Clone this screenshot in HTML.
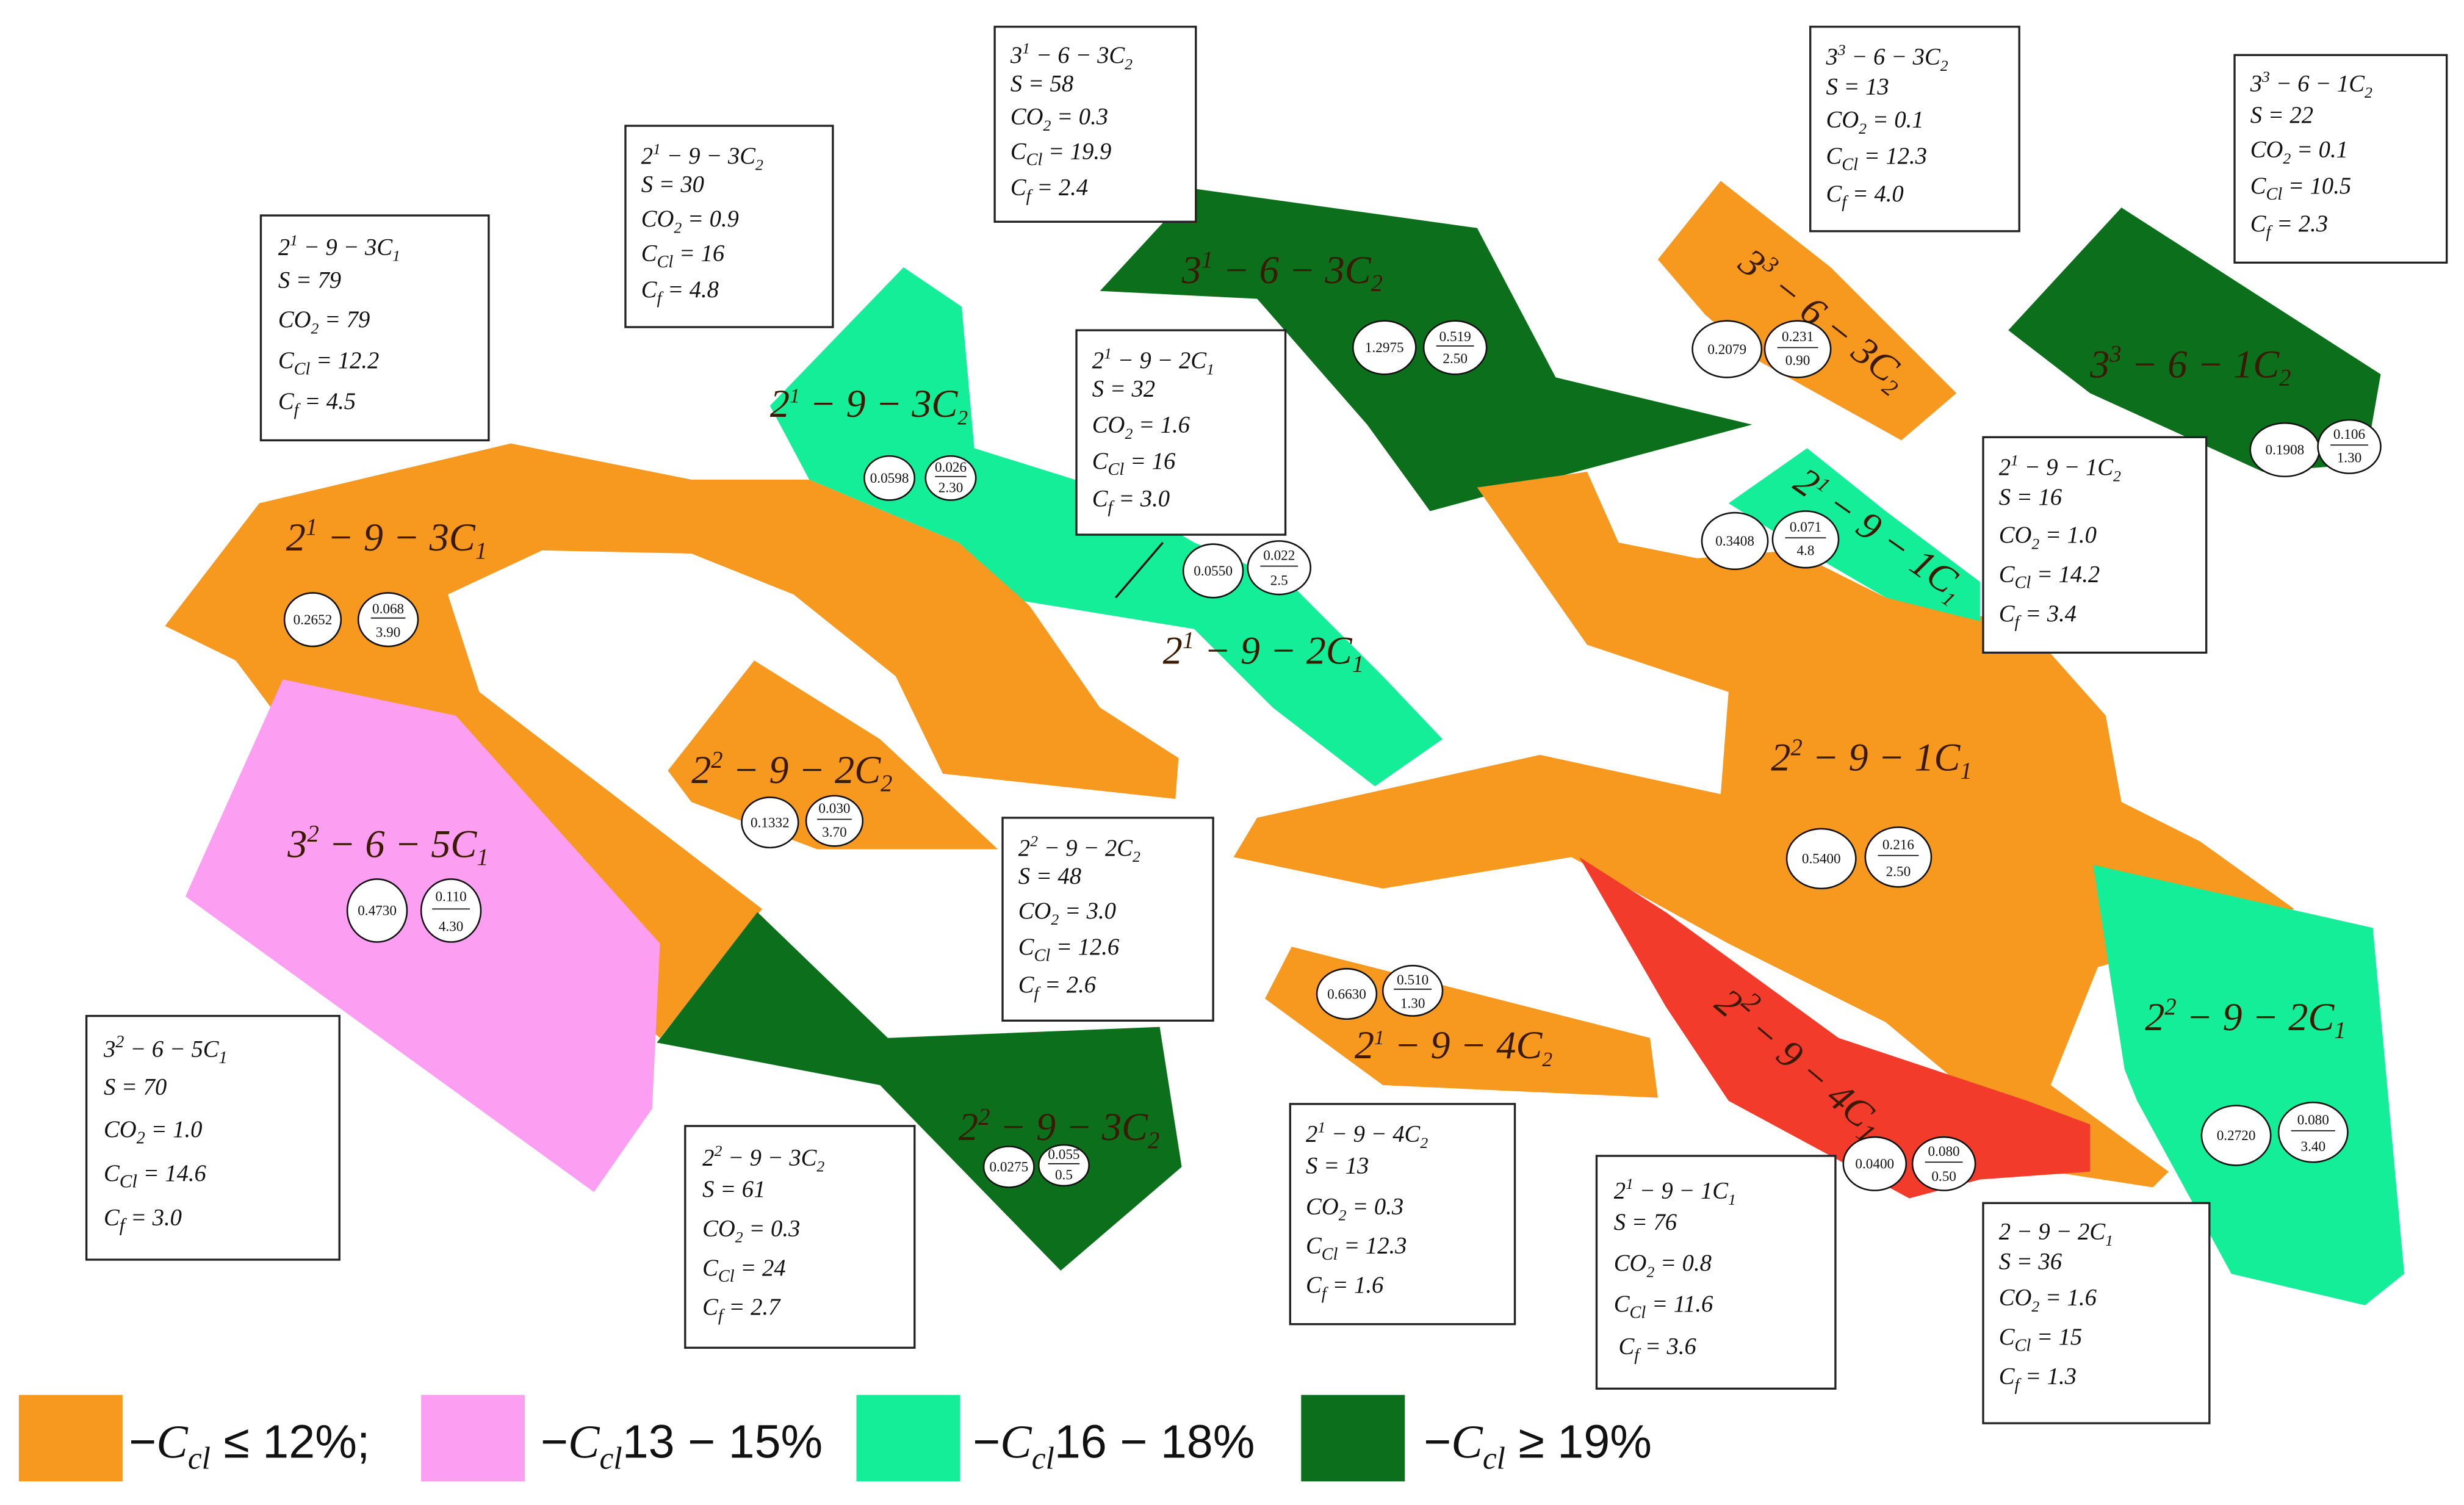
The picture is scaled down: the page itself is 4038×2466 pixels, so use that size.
<!DOCTYPE html>
<html><head><meta charset="utf-8"><style>
html,body{margin:0;padding:0;background:#fff;}
svg{display:block}
.b{fill:#fff;stroke:#222;stroke-width:1.3}
.t{font-family:"Liberation Serif",serif;font-style:italic;font-size:15px;fill:#111}
.L{font-family:"Liberation Serif",serif;font-style:italic;font-size:25px;fill:#3a1a00}
.c{fill:#fff;stroke:#111;stroke-width:1}
.n{font-family:"Liberation Serif",serif;font-size:9px;fill:#111;text-anchor:middle}
.g{font-family:"Liberation Sans",sans-serif;font-size:30px;fill:#111}
</style></head><body>
<svg width="4038" height="2466" viewBox="0 0 1568 957" preserveAspectRatio="none" xmlns="http://www.w3.org/2000/svg">
<rect width="1568" height="957" fill="#fff"/>
<!-- light green strip -->
<polygon fill="#14ee98" points="490,258 575,170 612,195 620,285 700,310 760,345 820,370 880,430 918,470 875,500 810,450 760,400 650,382 610,345 515,305"/>
<!-- big orange left -->
<polygon fill="#f7981f" points="105,398 165,320 325,282 440,305 515,305 610,345 655,385 700,450 750,482 748,508 600,492 570,430 505,378 440,352 345,350 285,378 305,440 485,578 420,660 180,460 150,420"/>
<!-- pink -->
<polygon fill="#fc9ef2" points="118,570 180,432 290,455 420,600 415,705 378,758"/>
<!-- dark green 2^2-9-3C2 -->
<polygon fill="#0b6f1c" points="418,663 482,580 565,660 738,653 752,742 675,808 560,690"/>
<!-- orange 2^2-9-2C2 -->
<polygon fill="#f7981f" points="425,490 480,420 560,470 635,540 520,540 440,510"/>
<!-- dark green 3^1 -->
<polygon fill="#0b6f1c" points="700,185 760,120 940,145 990,240 1115,270 910,325 870,270 800,190"/>
<!-- orange 3^3-6-3C2 -->
<polygon fill="#f7981f" points="1055,165 1095,115 1165,170 1245,250 1210,280 1120,230 1085,200"/>
<!-- dark green 3^3-6-1C2 -->
<polygon fill="#0b6f1c" points="1278,210 1350,132 1515,238 1505,295 1440,300 1330,250"/>
<!-- big orange right -->
<polygon fill="#f7981f" points="940,310 1010,300 1030,345 1080,355 1140,350 1200,380 1262,392 1300,410 1340,455 1350,510 1400,535 1460,578 1335,615 1305,690 1380,745 1370,755 1305,745 1260,700 1200,650 1100,600 1000,545 880,565 785,545 800,520 980,480 1095,505 1100,440 1010,410"/>
<!-- light green 2^1-9-1C1 -->
<polygon fill="#14ee98" points="1100,320 1150,285 1200,325 1260,370 1260,395 1200,380 1140,345"/>
<!-- light green 2^2-9-2C1 -->
<polygon fill="#14ee98" points="1332,550 1510,590 1530,810 1505,830 1420,810 1360,700 1352,680"/>
<!-- red -->
<polygon fill="#f23b2a" points="1005,545 1060,580 1170,660 1290,700 1330,715 1330,745 1260,750 1215,762 1100,700 1060,640"/>
<!-- orange 2^1-9-4C2 -->
<polygon fill="#f7981f" points="805,635 822,602 1050,660 1055,698 880,690"/>
<line x1="740" y1="345" x2="710" y2="380" stroke="#111" stroke-width="1.3"/>

<!-- polygon labels -->
<text class="L" x="182" y="350">2<tspan dy="-10" font-size="15">1</tspan><tspan dy="10"> − 9 − 3C</tspan><tspan dy="5" font-size="15">1</tspan></text>
<text class="L" x="490" y="265" font-size="21">2<tspan dy="-9" font-size="13">1</tspan><tspan dy="9"> − 9 − 3C</tspan><tspan dy="5" font-size="13">2</tspan></text>
<text class="L" x="752" y="180">3<tspan dy="-10" font-size="15">1</tspan><tspan dy="10"> − 6 − 3C</tspan><tspan dy="5" font-size="15">2</tspan></text>
<text class="L" x="740" y="422">2<tspan dy="-10" font-size="15">1</tspan><tspan dy="10"> − 9 − 2C</tspan><tspan dy="5" font-size="15">1</tspan></text>
<text class="L" x="440" y="498">2<tspan dy="-10" font-size="15">2</tspan><tspan dy="10"> − 9 − 2C</tspan><tspan dy="5" font-size="15">2</tspan></text>
<text class="L" x="183" y="545">3<tspan dy="-10" font-size="15">2</tspan><tspan dy="10"> − 6 − 5C</tspan><tspan dy="5" font-size="15">1</tspan></text>
<text class="L" x="610" y="725">2<tspan dy="-10" font-size="15">2</tspan><tspan dy="10"> − 9 − 3C</tspan><tspan dy="5" font-size="15">2</tspan></text>
<text class="L" x="862" y="673" font-size="21">2<tspan dy="-9" font-size="13">1</tspan><tspan dy="9"> − 9 − 4C</tspan><tspan dy="5" font-size="13">2</tspan></text>
<text class="L" x="1127" y="490">2<tspan dy="-10" font-size="15">2</tspan><tspan dy="10"> − 9 − 1C</tspan><tspan dy="5" font-size="15">1</tspan></text>
<text class="L" x="1330" y="240">3<tspan dy="-10" font-size="15">3</tspan><tspan dy="10"> − 6 − 1C</tspan><tspan dy="5" font-size="15">2</tspan></text>
<text class="L" x="1365" y="655">2<tspan dy="-10" font-size="15">2</tspan><tspan dy="10"> − 9 − 2C</tspan><tspan dy="5" font-size="15">1</tspan></text>
<text class="L" transform="translate(1105,170) rotate(38)">3<tspan dy="-10" font-size="15">3</tspan><tspan dy="10"> − 6 − 3C</tspan><tspan dy="5" font-size="15">2</tspan></text>
<text class="L" font-size="21" transform="translate(1140,310) rotate(35)">2<tspan dy="-9" font-size="13">1</tspan><tspan dy="9"> − 9 − 1C</tspan><tspan dy="5" font-size="13">1</tspan></text>
<text class="L" font-size="30" transform="translate(1090,640) rotate(40)">2<tspan dy="-12" font-size="18">2</tspan><tspan dy="12"> − 9 − 4C</tspan><tspan dy="5" font-size="18">1</tspan></text>

<!-- circle pairs -->
<g>
<ellipse class="c" cx="199" cy="394" rx="18" ry="17"/><text class="n" x="199" y="397">0.2652</text>
<ellipse class="c" cx="247" cy="394" rx="19" ry="17"/><text class="n" x="247" y="390">0.068</text><line x1="236" y1="393" x2="258" y2="393" stroke="#111" stroke-width=".7"/><text class="n" x="247" y="405">3.90</text>
<ellipse class="c" cx="566" cy="304" rx="16" ry="14"/><text class="n" x="566" y="307" font-size="8">0.0598</text>
<ellipse class="c" cx="605" cy="304" rx="16" ry="14"/><text class="n" x="605" y="300" font-size="8">0.026</text><line x1="595" y1="303" x2="615" y2="303" stroke="#111" stroke-width=".7"/><text class="n" x="605" y="313" font-size="8">2.30</text>
<ellipse class="c" cx="881" cy="221" rx="20" ry="17"/><text class="n" x="881" y="224">1.2975</text>
<ellipse class="c" cx="926" cy="221" rx="20" ry="17"/><text class="n" x="926" y="217">0.519</text><line x1="914" y1="220" x2="938" y2="220" stroke="#111" stroke-width=".7"/><text class="n" x="926" y="231">2.50</text>
<ellipse class="c" cx="1099" cy="222" rx="22" ry="18"/><text class="n" x="1099" y="225">0.2079</text>
<ellipse class="c" cx="1144" cy="222" rx="21" ry="18"/><text class="n" x="1144" y="217">0.231</text><line x1="1131" y1="221" x2="1157" y2="221" stroke="#111" stroke-width=".7"/><text class="n" x="1144" y="232">0.90</text>
<ellipse class="c" cx="1454" cy="286" rx="22" ry="17"/><text class="n" x="1454" y="289">0.1908</text>
<ellipse class="c" cx="1495" cy="284" rx="20" ry="17"/><text class="n" x="1495" y="279">0.106</text><line x1="1483" y1="283" x2="1507" y2="283" stroke="#111" stroke-width=".7"/><text class="n" x="1495" y="294">1.30</text>
<ellipse class="c" cx="1104" cy="344" rx="21" ry="18"/><text class="n" x="1104" y="347">0.3408</text>
<ellipse class="c" cx="1149" cy="343" rx="21" ry="18"/><text class="n" x="1149" y="338">0.071</text><line x1="1136" y1="342" x2="1162" y2="342" stroke="#111" stroke-width=".7"/><text class="n" x="1149" y="353">4.8</text>
<ellipse class="c" cx="772" cy="363" rx="19" ry="17"/><text class="n" x="772" y="366">0.0550</text>
<ellipse class="c" cx="814" cy="361" rx="20" ry="17"/><text class="n" x="814" y="356">0.022</text><line x1="802" y1="360" x2="826" y2="360" stroke="#111" stroke-width=".7"/><text class="n" x="814" y="372">2.5</text>
<ellipse class="c" cx="490" cy="523" rx="18" ry="16"/><text class="n" x="490" y="526">0.1332</text>
<ellipse class="c" cx="531" cy="522" rx="18" ry="16"/><text class="n" x="531" y="517">0.030</text><line x1="520" y1="521" x2="542" y2="521" stroke="#111" stroke-width=".7"/><text class="n" x="531" y="532">3.70</text>
<ellipse class="c" cx="240" cy="579" rx="19" ry="20"/><text class="n" x="240" y="582">0.4730</text>
<ellipse class="c" cx="287" cy="579" rx="19" ry="20"/><text class="n" x="287" y="573">0.110</text><line x1="275" y1="578" x2="299" y2="578" stroke="#111" stroke-width=".7"/><text class="n" x="287" y="592">4.30</text>
<ellipse class="c" cx="642" cy="742" rx="16" ry="13"/><text class="n" x="642" y="745" font-size="8">0.0275</text>
<ellipse class="c" cx="677" cy="741" rx="16" ry="13"/><text class="n" x="677" y="737" font-size="8">0.055</text><line x1="667" y1="740" x2="687" y2="740" stroke="#111" stroke-width=".7"/><text class="n" x="677" y="750" font-size="8">0.5</text>
<ellipse class="c" cx="857" cy="632" rx="19" ry="16"/><text class="n" x="857" y="635">0.6630</text>
<ellipse class="c" cx="899" cy="630" rx="19" ry="16"/><text class="n" x="899" y="626">0.510</text><line x1="887" y1="629" x2="911" y2="629" stroke="#111" stroke-width=".7"/><text class="n" x="899" y="641">1.30</text>
<ellipse class="c" cx="1159" cy="546" rx="22" ry="19"/><text class="n" x="1159" y="549">0.5400</text>
<ellipse class="c" cx="1208" cy="545" rx="21" ry="19"/><text class="n" x="1208" y="540">0.216</text><line x1="1195" y1="544" x2="1221" y2="544" stroke="#111" stroke-width=".7"/><text class="n" x="1208" y="557">2.50</text>
<ellipse class="c" cx="1193" cy="740" rx="20" ry="17"/><text class="n" x="1193" y="743" font-size="8">0.0400</text>
<ellipse class="c" cx="1237" cy="740" rx="20" ry="17"/><text class="n" x="1237" y="735">0.080</text><line x1="1225" y1="739" x2="1249" y2="739" stroke="#111" stroke-width=".7"/><text class="n" x="1237" y="751">0.50</text>
<ellipse class="c" cx="1423" cy="722" rx="22" ry="19"/><text class="n" x="1423" y="725">0.2720</text>
<ellipse class="c" cx="1472" cy="720" rx="22" ry="19"/><text class="n" x="1472" y="715">0.080</text><line x1="1458" y1="719" x2="1486" y2="719" stroke="#111" stroke-width=".7"/><text class="n" x="1472" y="732">3.40</text>
</g>

<!-- info boxes -->
<g>
<rect class="b" x="633" y="17" width="128" height="124"/>
<text class="t" x="643" y="40">3<tspan dy="-6" font-size="10">1</tspan><tspan dy="6"> − 6 − 3C</tspan><tspan dy="4" font-size="10">2</tspan></text>
<text class="t" x="643" y="58">S = 58</text>
<text class="t" x="643" y="79">CO<tspan dy="4" font-size="10">2</tspan><tspan dy="-4"> = 0.3</tspan></text>
<text class="t" x="643" y="101" font-size="17">C<tspan dy="4" font-size="11">Cl</tspan><tspan dy="-4"> = 19.9</tspan></text>
<text class="t" x="643" y="124" font-size="17">C<tspan dy="4" font-size="11">f</tspan><tspan dy="-4"> = 2.4</tspan></text>

<rect class="b" x="1152" y="17" width="133" height="130"/>
<text class="t" x="1162" y="41">3<tspan dy="-6" font-size="10">3</tspan><tspan dy="6"> − 6 − 3C</tspan><tspan dy="4" font-size="10">2</tspan></text>
<text class="t" x="1162" y="60">S = 13</text>
<text class="t" x="1162" y="81">CO<tspan dy="4" font-size="10">2</tspan><tspan dy="-4"> = 0.1</tspan></text>
<text class="t" x="1162" y="104" font-size="17">C<tspan dy="4" font-size="11">Cl</tspan><tspan dy="-4"> = 12.3</tspan></text>
<text class="t" x="1162" y="128" font-size="17">C<tspan dy="4" font-size="11">f</tspan><tspan dy="-4"> = 4.0</tspan></text>

<rect class="b" x="1422" y="35" width="135" height="132"/>
<text class="t" x="1432" y="58">3<tspan dy="-6" font-size="10">3</tspan><tspan dy="6"> − 6 − 1C</tspan><tspan dy="4" font-size="10">2</tspan></text>
<text class="t" x="1432" y="78">S = 22</text>
<text class="t" x="1432" y="100">CO<tspan dy="4" font-size="10">2</tspan><tspan dy="-4"> = 0.1</tspan></text>
<text class="t" x="1432" y="123" font-size="17">C<tspan dy="4" font-size="11">Cl</tspan><tspan dy="-4"> = 10.5</tspan></text>
<text class="t" x="1432" y="147" font-size="17">C<tspan dy="4" font-size="11">f</tspan><tspan dy="-4"> = 2.3</tspan></text>

<rect class="b" x="398" y="80" width="132" height="128"/>
<text class="t" x="408" y="104">2<tspan dy="-6" font-size="10">1</tspan><tspan dy="6"> − 9 − 3C</tspan><tspan dy="4" font-size="10">2</tspan></text>
<text class="t" x="408" y="122">S = 30</text>
<text class="t" x="408" y="144">CO<tspan dy="4" font-size="10">2</tspan><tspan dy="-4"> = 0.9</tspan></text>
<text class="t" x="408" y="166" font-size="17">C<tspan dy="4" font-size="11">Cl</tspan><tspan dy="-4"> = 16</tspan></text>
<text class="t" x="408" y="189" font-size="17">C<tspan dy="4" font-size="11">f</tspan><tspan dy="-4"> = 4.8</tspan></text>

<rect class="b" x="166" y="137" width="145" height="143"/>
<text class="t" x="177" y="162">2<tspan dy="-6" font-size="10">1</tspan><tspan dy="6"> − 9 − 3C</tspan><tspan dy="4" font-size="10">1</tspan></text>
<text class="t" x="177" y="183">S = 79</text>
<text class="t" x="177" y="208">CO<tspan dy="4" font-size="10">2</tspan><tspan dy="-4"> = 79</tspan></text>
<text class="t" x="177" y="234" font-size="17">C<tspan dy="4" font-size="11">Cl</tspan><tspan dy="-4"> = 12.2</tspan></text>
<text class="t" x="177" y="260" font-size="17">C<tspan dy="4" font-size="11">f</tspan><tspan dy="-4"> = 4.5</tspan></text>

<rect class="b" x="685" y="210" width="133" height="130"/>
<text class="t" x="695" y="234">2<tspan dy="-6" font-size="10">1</tspan><tspan dy="6"> − 9 − 2C</tspan><tspan dy="4" font-size="10">1</tspan></text>
<text class="t" x="695" y="252">S = 32</text>
<text class="t" x="695" y="275">CO<tspan dy="4" font-size="10">2</tspan><tspan dy="-4"> = 1.6</tspan></text>
<text class="t" x="695" y="298" font-size="17">C<tspan dy="4" font-size="11">Cl</tspan><tspan dy="-4"> = 16</tspan></text>
<text class="t" x="695" y="322" font-size="17">C<tspan dy="4" font-size="11">f</tspan><tspan dy="-4"> = 3.0</tspan></text>

<rect class="b" x="1262" y="278" width="142" height="137"/>
<text class="t" x="1272" y="302">2<tspan dy="-6" font-size="10">1</tspan><tspan dy="6"> − 9 − 1C</tspan><tspan dy="4" font-size="10">2</tspan></text>
<text class="t" x="1272" y="321">S = 16</text>
<text class="t" x="1272" y="345">CO<tspan dy="4" font-size="10">2</tspan><tspan dy="-4"> = 1.0</tspan></text>
<text class="t" x="1272" y="370" font-size="17">C<tspan dy="4" font-size="11">Cl</tspan><tspan dy="-4"> = 14.2</tspan></text>
<text class="t" x="1272" y="395" font-size="17">C<tspan dy="4" font-size="11">f</tspan><tspan dy="-4"> = 3.4</tspan></text>

<rect class="b" x="638" y="520" width="134" height="129"/>
<text class="t" x="648" y="544">2<tspan dy="-6" font-size="10">2</tspan><tspan dy="6"> − 9 − 2C</tspan><tspan dy="4" font-size="10">2</tspan></text>
<text class="t" x="648" y="562">S = 48</text>
<text class="t" x="648" y="584">CO<tspan dy="4" font-size="10">2</tspan><tspan dy="-4"> = 3.0</tspan></text>
<text class="t" x="648" y="607" font-size="17">C<tspan dy="4" font-size="11">Cl</tspan><tspan dy="-4"> = 12.6</tspan></text>
<text class="t" x="648" y="631" font-size="17">C<tspan dy="4" font-size="11">f</tspan><tspan dy="-4"> = 2.6</tspan></text>

<rect class="b" x="55" y="646" width="161" height="155"/>
<text class="t" x="66" y="672" font-size="16">3<tspan dy="-6" font-size="11">2</tspan><tspan dy="6"> − 6 − 5C</tspan><tspan dy="4" font-size="11">1</tspan></text>
<text class="t" x="66" y="696" font-size="16">S = 70</text>
<text class="t" x="66" y="723" font-size="16">CO<tspan dy="4" font-size="11">2</tspan><tspan dy="-4"> = 1.0</tspan></text>
<text class="t" x="66" y="751" font-size="18">C<tspan dy="4" font-size="12">Cl</tspan><tspan dy="-4"> = 14.6</tspan></text>
<text class="t" x="66" y="779" font-size="18">C<tspan dy="4" font-size="12">f</tspan><tspan dy="-4"> = 3.0</tspan></text>

<rect class="b" x="436" y="716" width="146" height="141"/>
<text class="t" x="447" y="741">2<tspan dy="-6" font-size="10">2</tspan><tspan dy="6"> − 9 − 3C</tspan><tspan dy="4" font-size="10">2</tspan></text>
<text class="t" x="447" y="761">S = 61</text>
<text class="t" x="447" y="786">CO<tspan dy="4" font-size="10">2</tspan><tspan dy="-4"> = 0.3</tspan></text>
<text class="t" x="447" y="811" font-size="17">C<tspan dy="4" font-size="11">Cl</tspan><tspan dy="-4"> = 24</tspan></text>
<text class="t" x="447" y="836" font-size="17">C<tspan dy="4" font-size="11">f</tspan><tspan dy="-4"> = 2.7</tspan></text>

<rect class="b" x="821" y="702" width="143" height="140"/>
<text class="t" x="831" y="726">2<tspan dy="-6" font-size="10">1</tspan><tspan dy="6"> − 9 − 4C</tspan><tspan dy="4" font-size="10">2</tspan></text>
<text class="t" x="831" y="746">S = 13</text>
<text class="t" x="831" y="772">CO<tspan dy="4" font-size="10">2</tspan><tspan dy="-4"> = 0.3</tspan></text>
<text class="t" x="831" y="797" font-size="17">C<tspan dy="4" font-size="11">Cl</tspan><tspan dy="-4"> = 12.3</tspan></text>
<text class="t" x="831" y="822" font-size="17">C<tspan dy="4" font-size="11">f</tspan><tspan dy="-4"> = 1.6</tspan></text>

<rect class="b" x="1016" y="735" width="152" height="148"/>
<text class="t" x="1027" y="762">2<tspan dy="-6" font-size="10">1</tspan><tspan dy="6"> − 9 − 1C</tspan><tspan dy="4" font-size="10">1</tspan></text>
<text class="t" x="1027" y="782">S = 76</text>
<text class="t" x="1027" y="808">CO<tspan dy="4" font-size="10">2</tspan><tspan dy="-4"> = 0.8</tspan></text>
<text class="t" x="1027" y="834" font-size="17">C<tspan dy="4" font-size="11">Cl</tspan><tspan dy="-4"> = 11.6</tspan></text>
<text class="t" x="1030" y="861" font-size="17">C<tspan dy="4" font-size="11">f</tspan><tspan dy="-4"> = 3.6</tspan></text>

<rect class="b" x="1262" y="765" width="144" height="140"/>
<text class="t" x="1272" y="788">2 − 9 − 2C<tspan dy="4" font-size="10">1</tspan></text>
<text class="t" x="1272" y="807">S = 36</text>
<text class="t" x="1272" y="830">CO<tspan dy="4" font-size="10">2</tspan><tspan dy="-4"> = 1.6</tspan></text>
<text class="t" x="1272" y="855" font-size="17">C<tspan dy="4" font-size="11">Cl</tspan><tspan dy="-4"> = 15</tspan></text>
<text class="t" x="1272" y="880" font-size="17">C<tspan dy="4" font-size="11">f</tspan><tspan dy="-4"> = 1.3</tspan></text>
</g>

<!-- legend -->
<rect x="12" y="887" width="66" height="55" fill="#f7981f"/>
<text class="g" x="82" y="927">−<tspan font-style="italic" font-family="Liberation Serif">C</tspan><tspan font-style="italic" font-family="Liberation Serif" font-size="20" dy="7">cl</tspan><tspan dy="-7"> ≤ 12%;</tspan></text>
<rect x="268" y="887" width="66" height="55" fill="#fc9ef2"/>
<text class="g" x="344" y="927">−<tspan font-style="italic" font-family="Liberation Serif">C</tspan><tspan font-style="italic" font-family="Liberation Serif" font-size="20" dy="7">cl</tspan><tspan dy="-7">13 − 15%</tspan></text>
<rect x="545" y="887" width="66" height="55" fill="#14ee98"/>
<text class="g" x="619" y="927">−<tspan font-style="italic" font-family="Liberation Serif">C</tspan><tspan font-style="italic" font-family="Liberation Serif" font-size="20" dy="7">cl</tspan><tspan dy="-7">16 − 18%</tspan></text>
<rect x="828" y="887" width="66" height="55" fill="#0b6f1c"/>
<text class="g" x="906" y="927">−<tspan font-style="italic" font-family="Liberation Serif">C</tspan><tspan font-style="italic" font-family="Liberation Serif" font-size="20" dy="7">cl</tspan><tspan dy="-7"> ≥ 19%</tspan></text>
</svg>
</body></html>
